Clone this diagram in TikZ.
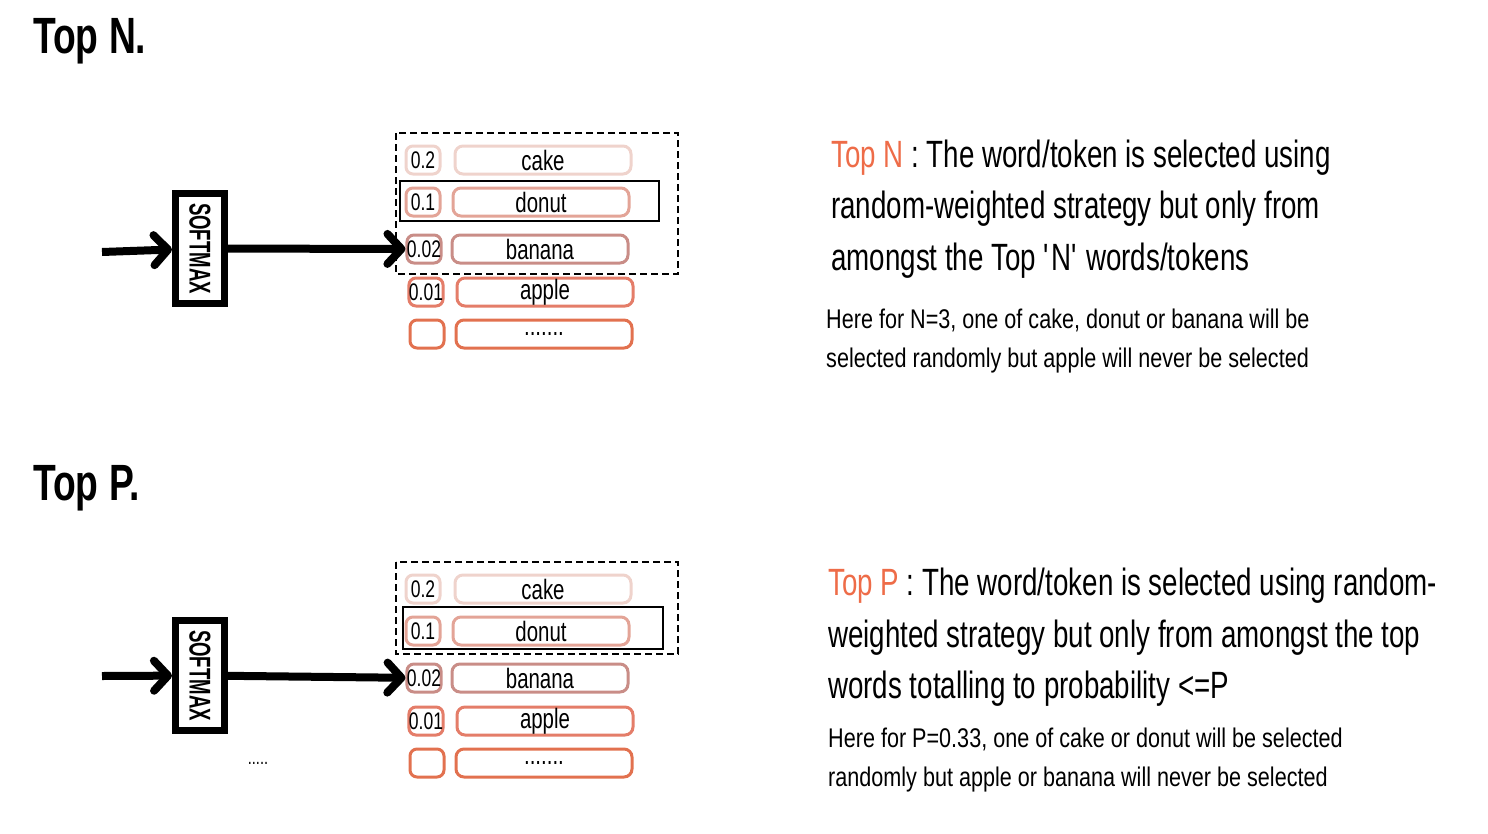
\documentclass[tikz,border=0pt]{standalone}
\usepackage{fontspec}
\setmainfont{Liberation Sans}[FakeStretch=0.73]
\newfontfamily\notefont{Liberation Sans}[FakeStretch=0.8]
\newfontfamily\boxfont{Liberation Sans}[FakeStretch=0.62]
\usetikzlibrary{arrows.meta,positioning}

\definecolor{topcol}{HTML}{EE6C48}
\definecolor{cakecol}{HTML}{EFD3CC}
\definecolor{donutcol}{HTML}{E3A497}
\definecolor{bananacol}{HTML}{C98D87}
\definecolor{applecol}{HTML}{E47D69}
\definecolor{dotscol}{HTML}{E2714F}

\begin{document}
\begin{tikzpicture}[x=1pt,y=-1pt,
  >={Straight Barb[length=14pt,width=30pt,line join=round,line cap=round]},
  heading/.style={font=\bfseries\fontsize{51}{55}\selectfont,anchor=base west,inner sep=0},
  softmax/.style={draw,line width=7pt,rotate=-90,minimum width=110pt,minimum height=49pt,
    inner sep=0,font=\boxfont\bfseries\fontsize{30}{32}\selectfont},
  prob/.style={draw=#1,line width=3pt,rounded corners=7pt,minimum width=34pt,minimum height=28pt,
    inner sep=0,font=\fontsize{24}{26}\selectfont},
  word/.style={draw=#1,line width=3pt,rounded corners=8pt,minimum width=176pt,minimum height=28pt,
    inner sep=0,font=\fontsize{28}{30}\selectfont},
  big/.style={anchor=base west,inner sep=0,font=\fontsize{38}{40}\selectfont},
  small/.style={anchor=base west,inner sep=0,font=\notefont\fontsize{27}{29}\selectfont},
  topsel/.style={dash pattern=on 7pt off 4pt,line width=1.5pt},
  flow/.style={->,line width=8pt}
]
\useasboundingbox (0,0) rectangle (1488,833);

% Top N
\node[heading] (headN) at (33,53) {Top N.};
\coordinate (inN) at (102,252);
\node[softmax] (smN) at (200,248.5) {SOFTMAX};

\draw[topsel] (396,133) rectangle (678,274);
\draw[line width=1.5pt] (400,181) rectangle (659,221);

\node[prob=cakecol]   (p1N) at (423,160) {0.2};
\node[prob=donutcol]  (p2N) at (423,202) {0.1};
\node[prob=bananacol] (p3N) at (424,249) {0.02};
\node[prob=applecol]  (p4N) at (426,292) {0.01};
\node[prob=dotscol]   (p5N) at (427,334) {};
\node[word=cakecol]   (w1N) at (543,160) {cake};
\node[word=donutcol]  (w2N) at (541,202) {donut};
\node[word=bananacol] (w3N) at (540,249) {banana};
\node[word=applecol]  (w4N) at (545,292) {apple};
\node[word=dotscol]   (w5N) at (544,334) {.......};

\draw[flow] (inN) -- (smN);
\draw[flow] (smN) -- (p3N);

\node[big]   (t1N) at (831,167) {\textcolor{topcol}{Top N} : The word/token is selected using};
\node[big]   (t2N) at (831,218.5) {random-weighted strategy but only from};
\node[big]   (t3N) at (831,270) {amongst the Top \textquotesingle N\textquotesingle{} words/tokens};
\node[small] (t4N) at (826,328) {Here for N=3, one of cake, donut or banana will be};
\node[small] (t5N) at (826,367) {selected randomly but apple will never be selected};

% Top P
\node[heading] (headP) at (33,500) {Top P.};
\coordinate (inP) at (102,676);
\node[softmax] (smP) at (200,675.5) {SOFTMAX};
\node[inner sep=0,font=\fontsize{20}{22}\selectfont] (restP) at (258,763) {.....};

\draw[topsel] (396,562) rectangle (678,654);
\draw[line width=1.5pt] (403,607) rectangle (663,649);

\node[prob=cakecol]   (p1P) at (423,589) {0.2};
\node[prob=donutcol]  (p2P) at (423,631) {0.1};
\node[prob=bananacol] (p3P) at (424,678) {0.02};
\node[prob=applecol]  (p4P) at (426,721) {0.01};
\node[prob=dotscol]   (p5P) at (427,763) {};
\node[word=cakecol]   (w1P) at (543,589) {cake};
\node[word=donutcol]  (w2P) at (541,631) {donut};
\node[word=bananacol] (w3P) at (540,678) {banana};
\node[word=applecol]  (w4P) at (545,721) {apple};
\node[word=dotscol]   (w5P) at (544,763) {.......};

\draw[flow] (inP) -- (smP);
\draw[flow] (smP) -- (p3P);

\node[big]   (t1P) at (828,595) {\textcolor{topcol}{Top P} : The word/token is selected using random-};
\node[big]   (t2P) at (828,647) {weighted strategy but only from amongst the top};
\node[big]   (t3P) at (828,698) {words totalling to probability <=P};
\node[small] (t4P) at (828,747) {Here for P=0.33, one of cake or donut will be selected};
\node[small] (t5P) at (828,786) {randomly but apple or banana will never be selected};
\end{tikzpicture}
\end{document}
